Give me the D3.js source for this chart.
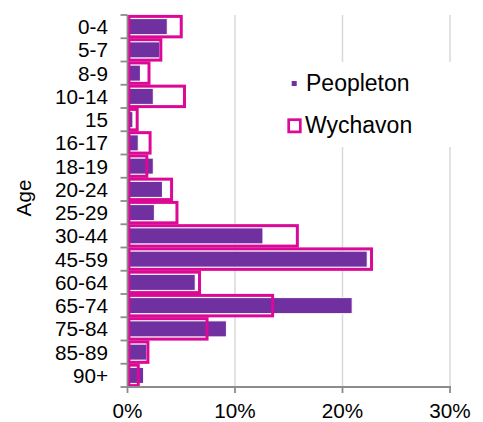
<!DOCTYPE html>
<html>
<head>
<meta charset="utf-8">
<script src="https://cdn.jsdelivr.net/npm/d3@7"></script>
<style>
  html, body { margin: 0; padding: 0; background: #fff; }
  svg { display: block; font-family: "Liberation Sans", Arial, sans-serif; }
</style>
</head>
<body>
<svg id="chart" width="483" height="422"></svg>
<script>
const categories = ["0-4","5-7","8-9","10-14","15","16-17","18-19","20-24","25-29","30-44","45-59","60-64","65-74","75-84","85-89","90+"];
const peopleton = [3.7,3.0,1.2,2.4,0.5,1.0,2.4,3.25,2.5,12.6,22.3,6.3,20.9,9.2,1.8,1.5];
const wychavon  = [5.0,3.1,2.0,5.3,0.9,2.1,1.8,4.1,4.6,15.8,22.7,6.7,13.5,7.4,1.9,1.0];
const xTicks = [0, 10, 20, 30];
const seriesNames = ["Peopleton", "Wychavon"];

const purple = "#7030a0";
const pink = "#dc0896";

const svg = d3.select("#chart");
const m = { left: 127.5, right: 450, top: 15, bottom: 387 };

const x = d3.scaleLinear().domain([0, 30]).range([m.left, m.right]);
const y = d3.scaleBand().domain(categories).range([m.top, m.bottom]).padding(0);
const bw = y.bandwidth();

// gridlines
svg.append("g").selectAll("line").data(xTicks.slice(1)).join("line")
  .attr("x1", d => x(d)).attr("x2", d => x(d))
  .attr("y1", m.top).attr("y2", m.bottom)
  .attr("stroke", "#d9d9d9").attr("stroke-width", 1.5);

// Peopleton bars
svg.append("g").selectAll("rect").data(categories).join("rect")
  .attr("x", x(0) + 1)
  .attr("y", d => y(d) + bw * 0.155)
  .attr("width", (d, i) => Math.max(0, x(peopleton[i]) - x(0) - 1))
  .attr("height", bw * 0.69)
  .attr("fill", purple)
  .attr("stroke", "#fff").attr("stroke-width", 1);

// Wychavon bars (outline)
svg.append("g").selectAll("rect").data(categories).join("rect")
  .attr("x", x(0) + 1.4)
  .attr("y", d => y(d) + bw * 0.06)
  .attr("width", (d, i) => Math.max(0, x(wychavon[i]) - x(0) - 1.4))
  .attr("height", bw * 0.88)
  .attr("fill", "none")
  .attr("stroke", pink).attr("stroke-width", 3);

// axes lines
const axisColor = "#8c8c8c";
svg.append("line").attr("x1", m.left).attr("x2", m.left).attr("y1", m.top).attr("y2", m.bottom)
  .attr("stroke", axisColor).attr("stroke-width", 1.8);
svg.append("line").attr("x1", m.left).attr("x2", m.right + 1).attr("y1", m.bottom).attr("y2", m.bottom)
  .attr("stroke", axisColor).attr("stroke-width", 1.8);

// y ticks (band boundaries)
const boundaries = categories.map(c => y(c)).concat([m.bottom]);
svg.append("g").selectAll("line").data(boundaries).join("line")
  .attr("x1", m.left - 7).attr("x2", m.left)
  .attr("y1", d => d).attr("y2", d => d)
  .attr("stroke", axisColor).attr("stroke-width", 1.8);

// x ticks
svg.append("g").selectAll("line").data(xTicks).join("line")
  .attr("x1", d => x(d)).attr("x2", d => x(d))
  .attr("y1", m.bottom).attr("y2", m.bottom + 6)
  .attr("stroke", axisColor).attr("stroke-width", 1.8);

// y tick labels
svg.append("g").selectAll("text").data(categories).join("text")
  .attr("x", 108)
  .attr("y", d => y(d) + bw / 2)
  .attr("dy", "0.36em")
  .attr("text-anchor", "end")
  .attr("font-size", 20.7)
  .attr("fill", "#000")
  .text(d => d);

// x tick labels
svg.append("g").selectAll("text").data(xTicks).join("text")
  .attr("x", d => x(d))
  .attr("y", 418)
  .attr("text-anchor", "middle")
  .attr("font-size", 20.7)
  .attr("fill", "#000")
  .text(d => d + "%");

// axis title
svg.append("text")
  .attr("transform", "translate(31,198) rotate(-90)")
  .attr("text-anchor", "middle")
  .attr("font-size", 20.7)
  .attr("fill", "#000")
  .text("Age");

// legend
const lg = svg.append("g");
lg.append("rect").attr("x", 282).attr("y", 62).attr("width", 185).attr("height", 85).attr("fill", "#fff");
lg.append("rect").attr("x", 291.7).attr("y", 81).attr("width", 5).attr("height", 5).attr("fill", purple);
lg.append("rect").attr("x", 288.7).attr("y", 119.7).attr("width", 11.6).attr("height", 12.2)
  .attr("fill", "none").attr("stroke", pink).attr("stroke-width", 2.7);
lg.append("text").attr("x", 306).attr("y", 91).attr("font-size", 23).attr("fill", "#000").text(seriesNames[0]);
lg.append("text").attr("x", 305).attr("y", 133).attr("font-size", 23).attr("fill", "#000").text(seriesNames[1]);
</script>
</body>
</html>
